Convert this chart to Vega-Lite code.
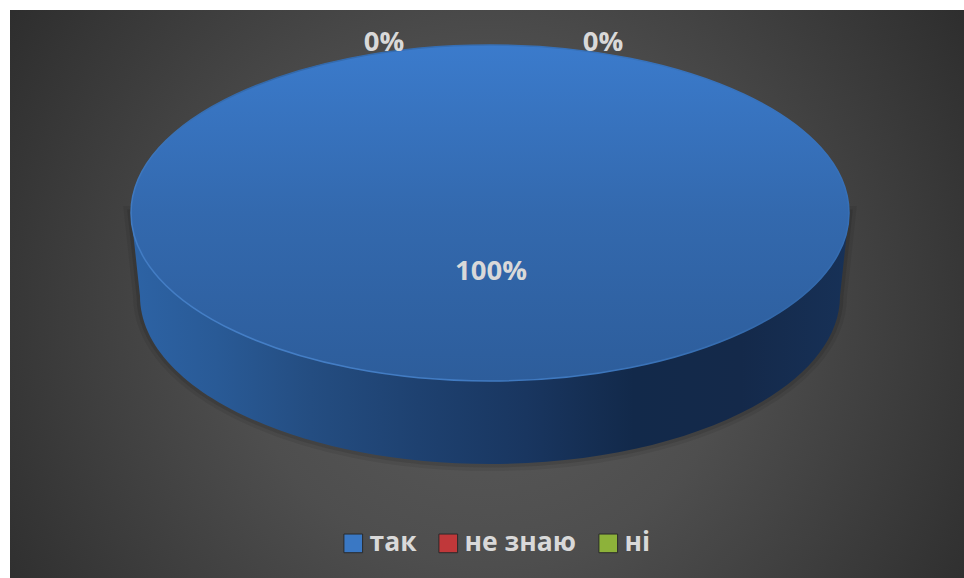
{
  "$schema": "https://vega.github.io/schema/vega-lite/v6.json",
  "width": 964,
  "height": 578,
  "padding": 0,
  "autosize": {"type": "none"},
  "background": "#ffffff",
  "view": {"stroke": null},
  "data": {"values": [
    {"category": "так", "share": 100, "label": "100%"},
    {"category": "не знаю", "share": 0, "label": "0%"},
    {"category": "ні", "share": 0, "label": "0%"}
  ]},
  "encoding": {
    "x": {"datum": 490, "type": "quantitative", "scale": {"domain": [0, 964], "nice": false, "zero": false}, "axis": null},
    "y": {"datum": 213, "type": "quantitative", "scale": {"domain": [578, 0], "nice": false, "zero": false}, "axis": null}
  },
  "layer": [
    {
      "transform": [{"filter": "datum.share > 0"}],
      "mark": {"type": "rect", "fill": {"gradient": "radial", "x1": 0.5, "y1": 0.52, "r1": 0, "x2": 0.5, "y2": 0.52, "r2": 0.66, "stops": [
        {"offset": 0, "color": "#5c5c5c"},
        {"offset": 0.4, "color": "#4e4e4e"},
        {"offset": 0.6, "color": "#414141"},
        {"offset": 1, "color": "#272727"}
      ]}},
      "encoding": {
        "x": {"datum": 10, "type": "quantitative"},
        "x2": {"datum": 964},
        "y": {"datum": 10, "type": "quantitative"},
        "y2": {"datum": 578}
      }
    },
    {
      "transform": [{"filter": "datum.share > 0"}],
      "mark": {"type": "point", "size": 4, "opacity": 1, "filled": false, "stroke": "#000000", "strokeOpacity": 0.07, "strokeWidth": 14, "shape": "M-359,0L-350,83A350,168 0 0 0 350,83L359,0Z"}
    },
    {
      "transform": [{"filter": "datum.share > 0"}],
      "mark": {"type": "point", "size": 4, "opacity": 1, "filled": false, "stroke": "#000000", "strokeOpacity": 0.1, "strokeWidth": 7, "shape": "M-359,0L-350,83A350,168 0 0 0 350,83L359,0Z"}
    },
    {
      "transform": [{"filter": "datum.share > 0"}],
      "mark": {"type": "point", "size": 4, "opacity": 1, "filled": true, "strokeWidth": 0, "shape": "M-359,0L-350,83A350,168 0 0 0 350,83L359,0Z",
        "fill": {"gradient": "linear", "x1": 0, "y1": 0, "x2": 1, "y2": 0, "stops": [
          {"offset": 0, "color": "#2d63a5"},
          {"offset": 0.12, "color": "#295a96"},
          {"offset": 0.25, "color": "#244d81"},
          {"offset": 0.4, "color": "#1e4170"},
          {"offset": 0.55, "color": "#193660"},
          {"offset": 0.7, "color": "#12294a"},
          {"offset": 0.85, "color": "#14294a"},
          {"offset": 1, "color": "#173157"}
        ]}}
    },
    {
      "transform": [{"filter": "datum.share > 0"}],
      "mark": {"type": "point", "size": 4, "opacity": 1, "filled": true, "shape": "M-359,0A359,168 0 1 1 359,0A359,168 0 1 1 -359,0Z",
        "fill": {"gradient": "linear", "x1": 0, "y1": 0, "x2": 0, "y2": 1, "stops": [
          {"offset": 0, "color": "#3b7bcc"},
          {"offset": 0.5, "color": "#3369ae"},
          {"offset": 1, "color": "#2d5d9b"}
        ]},
        "stroke": {"gradient": "linear", "x1": 1, "y1": 0, "x2": 0, "y2": 1, "stops": [
          {"offset": 0, "color": "#3a78c6"},
          {"offset": 0.45, "color": "#3268aa"},
          {"offset": 0.7, "color": "#3e78bf"},
          {"offset": 1, "color": "#4a84cc"}
        ]},
        "strokeWidth": 1.5}
    },
    {
      "mark": {"type": "point", "size": 0, "opacity": 1, "filled": true},
      "encoding": {
        "color": {"field": "category", "type": "nominal",
          "scale": {"domain": ["так", "не знаю", "ні"], "range": ["#3a78c4", "#c0383a", "#8db23a"]},
          "legend": {"title": null, "orient": "none", "legendX": 340, "legendY": 530, "direction": "horizontal", "columns": 3,
            "symbolType": "square", "symbolSize": 350, "symbolStrokeWidth": 1, "symbolStrokeColor": "#2a2a2a", "symbolOpacity": 1,
            "labelFont": "Open Sans", "labelFontSize": 26.5, "labelFontWeight": "bold", "labelColor": "#d9d9d9",
            "labelOffset": 3, "labelLimit": 300, "columnPadding": 18, "padding": 0}
        }
      }
    },
    {
      "transform": [{"filter": "datum.category === 'так'"}],
      "mark": {"type": "text", "font": "Open Sans", "fontWeight": "bold", "fontSize": 27.5, "color": "#d9d9d9"},
      "encoding": {
        "x": {"datum": 491, "type": "quantitative"},
        "y": {"datum": 272, "type": "quantitative"},
        "text": {"field": "label"}
      }
    },
    {
      "transform": [{"filter": "datum.category === 'не знаю'"}],
      "mark": {"type": "text", "font": "Open Sans", "fontWeight": "bold", "fontSize": 27.5, "color": "#d9d9d9"},
      "encoding": {
        "x": {"datum": 384, "type": "quantitative"},
        "y": {"datum": 43, "type": "quantitative"},
        "text": {"field": "label"}
      }
    },
    {
      "transform": [{"filter": "datum.category === 'ні'"}],
      "mark": {"type": "text", "font": "Open Sans", "fontWeight": "bold", "fontSize": 27.5, "color": "#d9d9d9"},
      "encoding": {
        "x": {"datum": 603, "type": "quantitative"},
        "y": {"datum": 43, "type": "quantitative"},
        "text": {"field": "label"}
      }
    }
  ]
}
